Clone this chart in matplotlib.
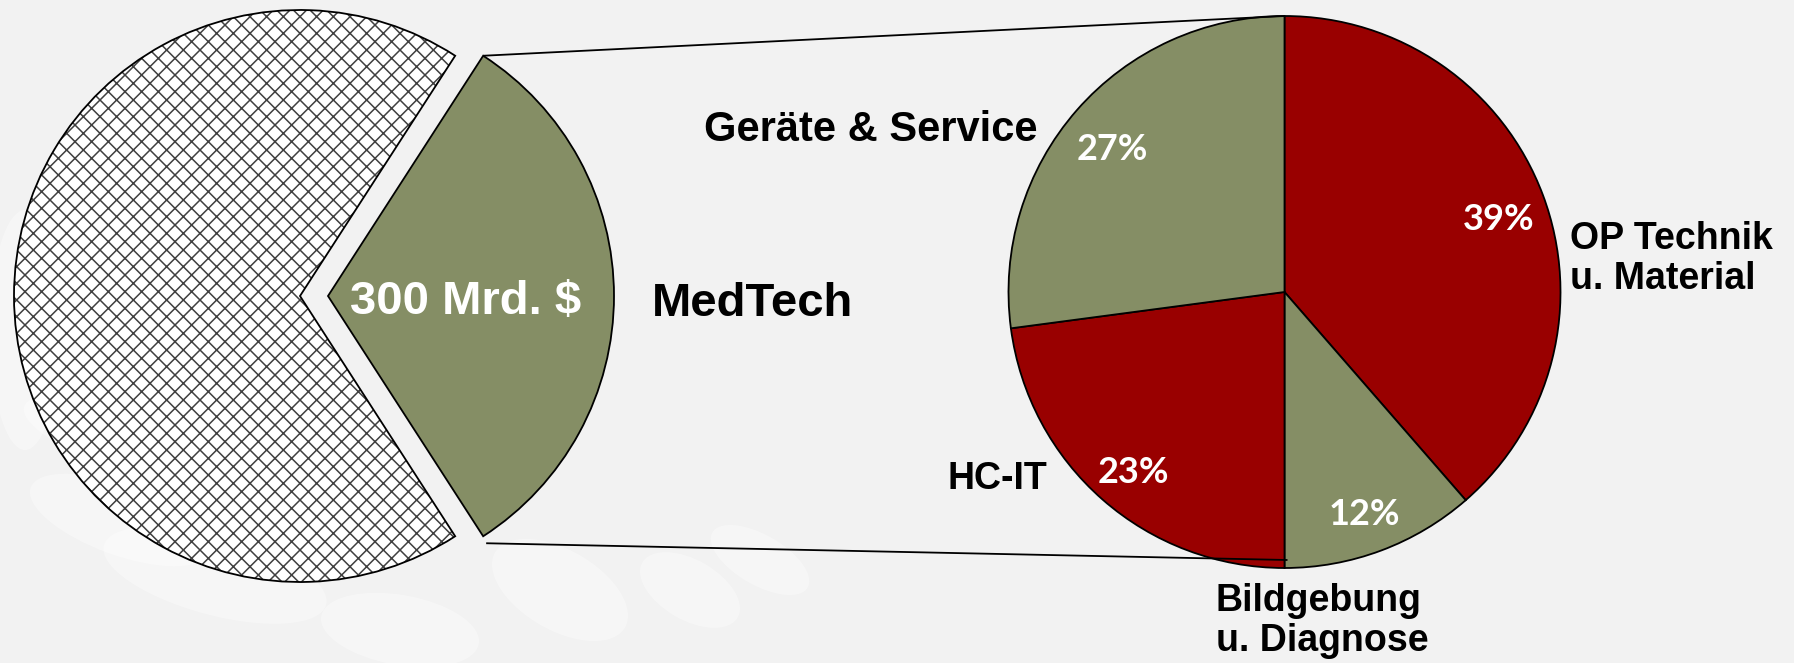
import matplotlib
matplotlib.use("Agg")
import matplotlib.pyplot as plt
import matplotlib.patches as mpatches
import numpy as np

# ---- data ----
market_labels = ["MedTech", "Rest"]
market_values = [300, 645]          # Mrd. $ (rest)
medtech_label = "300 Mrd. $"

seg_labels = ["OP Technik\nu. Material", "Bildgebung\nu. Diagnose", "HC-IT", "Geräte & Service"]
seg_values = [38.6, 11.4, 22.9, 27.1]       # shares
seg_pct_labels = ["39%", "12%", "23%", "27%"]  # printed labels

RED = "#990000"
GREEN = "#858E65"
BG = "#F2F2F2"

W, H = 1794, 663
fig = plt.figure(figsize=(W / 100, H / 100), dpi=100, facecolor=BG)
ax = fig.add_axes([0, 0, 1, 1])
ax.set_facecolor(BG)

def Y(y):
    return H - y

# faint decorative background blobs
for (cx, cy, w, h, ang) in [(25, 330, 70, 240, 0), (120, 520, 190, 70, -20),
                            (215, 575, 230, 80, -15), (400, 630, 160, 70, -10),
                            (560, 590, 150, 80, -30), (690, 590, 110, 60, -30),
                            (760, 560, 110, 50, -30), (90, 430, 140, 50, -20)]:
    ax.add_patch(mpatches.Ellipse((cx, Y(cy)), w, h, angle=ang, facecolor="white",
                                  edgecolor="none", alpha=0.35, zorder=0))

plt.rcParams['hatch.linewidth'] = 1.1

# ---- left pie ----
lc = (300, Y(296))
lr = 286
frac = market_values[0] / sum(market_values)
lw, _ = ax.pie(market_values, center=lc, radius=lr, startangle=-180 * frac,
               explode=[28, 0], colors=[GREEN, "white"], counterclock=True,
               wedgeprops=dict(edgecolor="black", linewidth=1.3))
lw[1].set_hatch("xx")
lw[1].set_edgecolor("#404040")
lw[1].set_linewidth(0)
hw = lw[1]
ax.add_patch(mpatches.Wedge(hw.center, hw.r, hw.theta1, hw.theta2, fill=False,
                            edgecolor="black", linewidth=1.3, zorder=hw.get_zorder() + 0.1))

gw = lw[0]
gcx, gcy = gw.center
ax.text(gcx + gw.r * 0.48, gcy - 6, medtech_label, color="white", fontsize=34,
        fontweight="bold", family="Liberation Sans", ha="center", va="center", zorder=5)
ax.text(652, Y(304), market_labels[0], color="black", fontsize=34,
        fontweight="bold", family="Liberation Sans", ha="left", va="center", zorder=5)

# ---- right pie ----
rc = (1284.5, Y(292))
rr = 276
rw, rt = ax.pie(seg_values, center=rc, radius=rr, startangle=90, counterclock=False,
                colors=[RED, GREEN, RED, GREEN],
                wedgeprops=dict(edgecolor="black", linewidth=1.3))
for w, s in zip(rw, seg_pct_labels):
    th = np.deg2rad((w.theta1 + w.theta2) / 2)
    ax.text(rc[0] + 0.83 * rr * np.cos(th), rc[1] + 0.83 * rr * np.sin(th) - 8, s,
            color="white", fontsize=26, family="Lato", fontweight="bold",
            ha="center", va="center", zorder=5)

# connector lines
t2 = np.deg2rad(gw.theta2)
t1 = np.deg2rad(gw.theta1)
top_tip = (gcx + gw.r * np.cos(t2), gcy + gw.r * np.sin(t2))
bot_tip = (gcx + gw.r * np.cos(t1) + 3, gcy + gw.r * np.sin(t1) - 7)
ax.plot([top_tip[0], rc[0]], [top_tip[1], rc[1] + rr], color="black", lw=1.3, zorder=6,
        solid_capstyle="butt")
ax.plot([bot_tip[0], rc[0] + 3], [bot_tip[1], rc[1] - rr + 8], color="black", lw=1.3, zorder=6,
        solid_capstyle="butt")

# category labels
lab_kw = dict(color="black", fontweight="bold", family="Liberation Sans", zorder=5)
ax.text(1038, Y(130), seg_labels[3], fontsize=30, ha="right", va="center", **lab_kw)
ax.text(1570, Y(259), seg_labels[0], fontsize=27, ha="left", va="center",
        linespacing=1.15, **lab_kw)
ax.text(1047, Y(479), seg_labels[2], fontsize=27, ha="right", va="center", **lab_kw)
ax.text(1216, Y(621), seg_labels[1], fontsize=27, ha="left", va="center",
        linespacing=1.15, **lab_kw)

ax.set_xlim(0, W)
ax.set_ylim(0, H)
ax.set_aspect("equal")
ax.axis("off")

fig.savefig("out.png", dpi=100, facecolor=BG)
